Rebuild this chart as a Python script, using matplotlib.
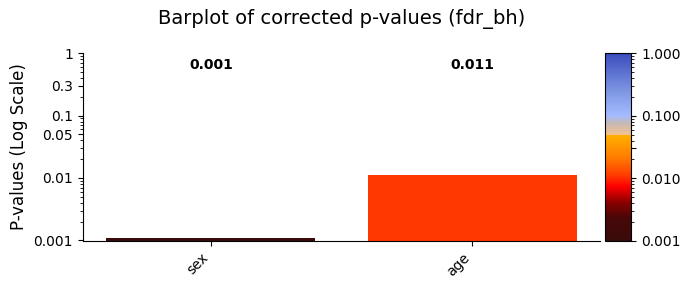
import numpy as np
import matplotlib.pyplot as plt
from matplotlib.colors import LinearSegmentedColormap, LogNorm
from matplotlib.cm import ScalarMappable

# corrected p-values per covariate
variables = ["sex", "age"]
pvalues = [0.00108, 0.011]
pvalue_labels = ["0.001", "0.011"]
yticks = [0.001, 0.01, 0.05, 0.1, 0.3, 1]
ytick_labels = ["0.001", "0.01", "0.05", "0.1", "0.3", "1"]

# colormap: heat below 0.05, cool above
nodes = [
    (0.0, "#3a0b0b"),
    (0.12, "#470808"),
    (0.2, "#850000"),
    (0.29, "#ff0000"),
    (0.35, "#ff3c00"),
    (0.45, "#ff8000"),
    (0.565, "#ffb000"),
    (0.567, "#f2c190"),
    (0.63, "#c4b9b8"),
    (0.667, "#a4bbff"),
    (0.8, "#7d96e2"),
    (1.0, "#3a4cbd"),
]
cmap = LinearSegmentedColormap.from_list("pcmap", nodes)
norm = LogNorm(vmin=0.001, vmax=1)

fig = plt.figure(figsize=(6.9, 2.9), dpi=100)
ax = fig.add_axes([0.12, 0.169, 0.75, 0.648])
cax = fig.add_axes([0.877, 0.169, 0.038, 0.648])

x = np.arange(len(variables))
colors = [cmap(norm(p)) for p in pvalues]
ax.bar(x, pvalues, width=0.8, color=colors)
ax.set_yscale("log")
ax.set_ylim(0.00098, 1)
ax.set_yticks(yticks)
ax.set_yticklabels(ytick_labels)
ax.set_xticks(x)
ax.set_xticklabels(variables, rotation=45, ha="right")
ax.set_ylabel("P-values (Log Scale)", fontsize=12)
ax.spines["top"].set_visible(False)
ax.spines["right"].set_visible(False)

for xi, lab in zip(x, pvalue_labels):
    ax.text(xi, 0.65, lab, ha="center", va="center", fontsize=10, fontweight="bold")

sm = ScalarMappable(norm=norm, cmap=cmap)
cb = fig.colorbar(sm, cax=cax)
cb.set_ticks([0.001, 0.01, 0.03, 0.1, 1])
cb.set_ticklabels(["0.001", "0.010", "", "0.100", "1.000"])

fig.suptitle("Barplot of corrected p-values (fdr_bh)", fontsize=14, x=0.495, y=0.97)
fig.savefig("out.png")
